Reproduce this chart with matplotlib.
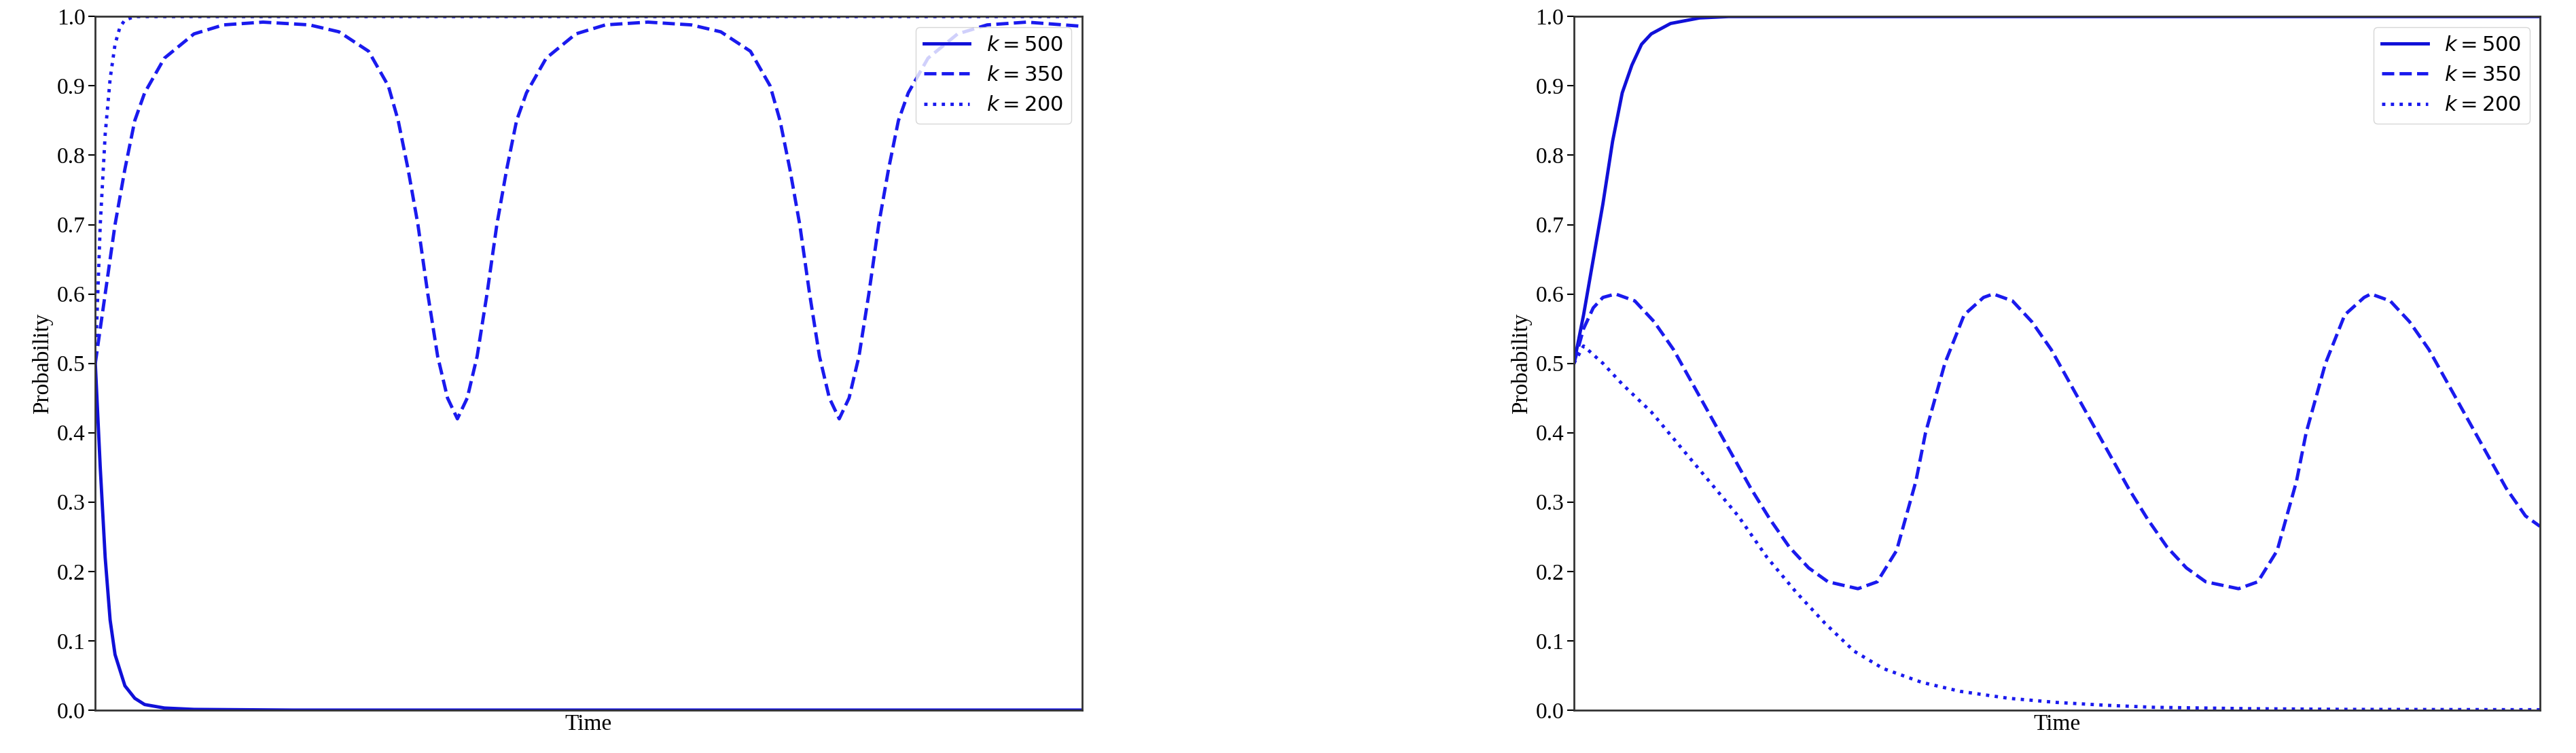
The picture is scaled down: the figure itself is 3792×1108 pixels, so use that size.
import matplotlib
matplotlib.use("Agg")
import matplotlib.pyplot as plt

# =========================
# DATA
# =========================

# left panel
left_k500_x = [0, 0.005, 0.01, 0.015, 0.02, 0.03, 0.04, 0.05, 0.07, 0.1, 0.2, 1.0]
left_k500_y = [0.5, 0.35, 0.22, 0.13, 0.08, 0.035, 0.017, 0.008, 0.003, 0.001, 0.0, 0.0]

left_k350_x = [0, 0.01, 0.02, 0.03, 0.04, 0.05, 0.07, 0.10, 0.13, 0.17,
               0.217, 0.247, 0.277, 0.297, 0.307, 0.317, 0.327, 0.337, 0.347, 0.357,
               0.367, 0.377, 0.387, 0.397, 0.407, 0.417, 0.427, 0.437, 0.457, 0.487,
               0.517, 0.56, 0.604, 0.634, 0.664, 0.684, 0.694, 0.704, 0.714, 0.724,
               0.734, 0.744, 0.754, 0.764, 0.774, 0.784, 0.794, 0.804, 0.814, 0.824,
               0.844, 0.874, 0.904, 0.944, 1.0]
left_k350_y = [0.5, 0.60, 0.70, 0.78, 0.85, 0.89, 0.94, 0.975, 0.988, 0.992,
               0.988, 0.978, 0.95, 0.90, 0.85, 0.78, 0.70, 0.60, 0.51, 0.45,
               0.42, 0.45, 0.51, 0.60, 0.70, 0.78, 0.85, 0.89, 0.94, 0.975,
               0.988, 0.992, 0.988, 0.978, 0.95, 0.90, 0.85, 0.78, 0.70, 0.60,
               0.51, 0.45, 0.42, 0.45, 0.51, 0.60, 0.70, 0.78, 0.85, 0.89,
               0.94, 0.975, 0.988, 0.992, 0.986]

left_k200_x = [0, 0.005, 0.01, 0.015, 0.02, 0.025, 0.03, 0.04, 1.0]
left_k200_y = [0.5, 0.7, 0.83, 0.91, 0.96, 0.985, 0.995, 1.0, 1.0]

# right panel
right_k500_x = [0, 0.01, 0.02, 0.03, 0.04, 0.05, 0.06, 0.07, 0.08, 0.1, 0.13, 0.16, 1.0]
right_k500_y = [0.5, 0.57, 0.65, 0.73, 0.82, 0.89, 0.93, 0.96, 0.975, 0.99, 0.998, 1.0, 1.0]

right_k350_x = [0, 0.01, 0.02, 0.03, 0.043, 0.063, 0.083, 0.103, 0.123, 0.143, 0.163, 0.183,
                0.203, 0.223, 0.243, 0.263, 0.294, 0.314, 0.334, 0.354, 0.364, 0.384, 0.404,
                0.424, 0.434, 0.454, 0.474, 0.494, 0.514, 0.534, 0.554, 0.574, 0.594, 0.614,
                0.634, 0.654, 0.688, 0.708, 0.728, 0.748, 0.758, 0.778, 0.798, 0.818, 0.825,
                0.845, 0.865, 0.885, 0.905, 0.925, 0.945, 0.965, 0.985, 1.0]
right_k350_y = [0.5, 0.55, 0.58, 0.595, 0.6, 0.59, 0.56, 0.52, 0.47, 0.42, 0.37, 0.32,
                0.275, 0.235, 0.205, 0.185, 0.175, 0.185, 0.23, 0.33, 0.40, 0.50, 0.57,
                0.595, 0.6, 0.59, 0.56, 0.52, 0.47, 0.42, 0.37, 0.32, 0.275, 0.235,
                0.205, 0.185, 0.175, 0.185, 0.23, 0.33, 0.40, 0.50, 0.57, 0.595, 0.6,
                0.59, 0.56, 0.52, 0.47, 0.42, 0.37, 0.32, 0.28, 0.265]

right_k200_x = [0, 0.01, 0.03, 0.05, 0.08, 0.11, 0.14, 0.17, 0.2, 0.23, 0.26, 0.29, 0.32,
                0.36, 0.4, 0.45, 0.5, 0.55, 0.6, 0.7, 0.8, 1.0]
right_k200_y = [0.5, 0.525, 0.50, 0.47, 0.43, 0.38, 0.33, 0.28, 0.22, 0.17, 0.125, 0.085, 0.06,
                0.04, 0.027, 0.017, 0.011, 0.007, 0.004, 0.002, 0.001, 0.0005]

labels = [r"$k = 500$", r"$k = 350$", r"$k = 200$"]
yticks = [0.0, 0.1, 0.2, 0.3, 0.4, 0.5, 0.6, 0.7, 0.8, 0.9, 1.0]

# =========================
# PLOT
# =========================

fig = plt.figure(figsize=(37.92, 11.08), dpi=100)
ax1 = fig.add_axes([0.037, 0.057, 0.383, 0.921])
ax2 = fig.add_axes([0.611, 0.057, 0.375, 0.921])

panels = [
    (ax1, left_k500_x, left_k500_y, left_k350_x, left_k350_y, left_k200_x, left_k200_y),
    (ax2, right_k500_x, right_k500_y, right_k350_x, right_k350_y, right_k200_x, right_k200_y),
]

for ax, x5, y5, x3, y3, x2, y2 in panels:
    ax.plot(x5, y5, color="#1010d8", lw=3.5, ls="-", label=labels[0])
    ax.plot(x3, y3, color="#1a1aee", lw=3.5, ls="--", label=labels[1])
    ax.plot(x2, y2, color="#1a1aee", lw=3.5, ls=":", label=labels[2])
    ax.set_xlim(0, 1)
    ax.set_ylim(0, 1)
    ax.set_xticks([])
    ax.set_yticks(yticks)
    ax.set_yticklabels([f"{t:.1f}" for t in yticks], family="Liberation Serif", fontsize=24)
    ax.set_xlabel("Time", family="Liberation Serif", fontsize=24)
    ax.set_ylabel("Probability", family="Liberation Serif", fontsize=24)
    ax.tick_params(axis="y", length=7, width=1.5)
    for s in ax.spines.values():
        s.set_linewidth(2)
        s.set_color("#333333")
    ax.legend(loc="upper right", fontsize=22, framealpha=0.8, handlelength=2.2)

fig.savefig("out.png", dpi=100)
